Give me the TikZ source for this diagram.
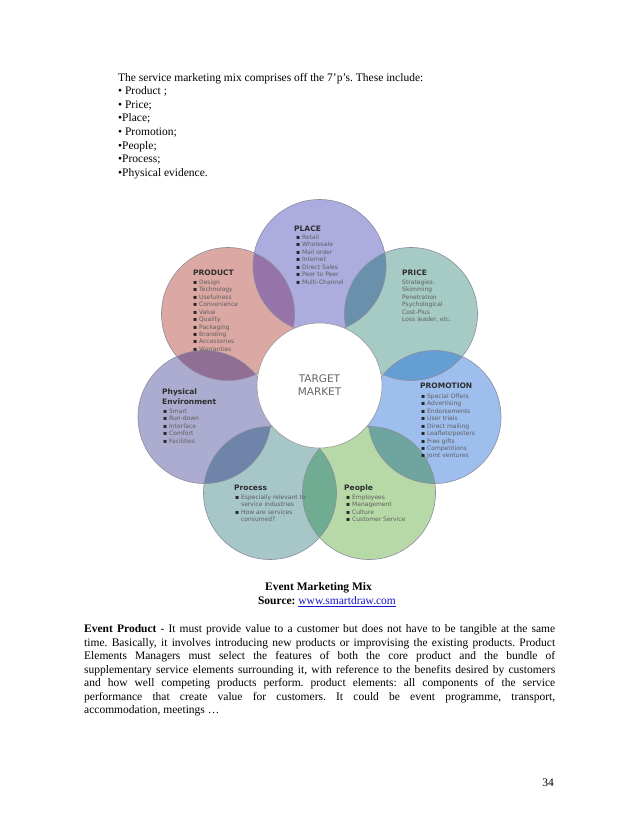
\documentclass[tikz,border=0pt]{standalone}
\usepackage{fontspec}
\setmainfont{Liberation Serif}
\newfontfamily\vfont{DejaVu Sans}
\definecolor{cPlace}{RGB}{172,172,222}
\definecolor{cProduct}{RGB}{219,168,164}
\definecolor{cPrice}{RGB}{165,203,196}
\definecolor{cPromo}{RGB}{158,190,238}
\definecolor{cPeople}{RGB}{183,217,167}
\definecolor{cProcess}{RGB}{166,198,200}
\definecolor{cPhys}{RGB}{172,172,208}
\definecolor{oPlPr}{RGB}{150,115,168}
\definecolor{oPrPh}{RGB}{145,110,150}
\definecolor{oPhPc}{RGB}{110,132,168}
\definecolor{oPcPe}{RGB}{112,172,145}
\definecolor{oPePm}{RGB}{110,165,158}
\definecolor{oPmPi}{RGB}{100,158,210}
\definecolor{oPiPl}{RGB}{105,145,172}
\definecolor{edge}{RGB}{140,140,158}
\definecolor{ttl}{RGB}{45,45,45}
\definecolor{itm}{RGB}{95,95,95}
\definecolor{lnk}{RGB}{20,20,200}
\newcommand\bl{\textcolor{black!85}{▪} }
\newcommand\nobl{\phantom{▪ }}
\tikzset{
  petal/.style={draw=edge, line width=0.6pt},
  ptitle/.style={anchor=base west, inner sep=0pt, font=\vfont\bfseries\fontsize{7.5}{10}\selectfont, text=ttl, align=left},
  plist/.style={anchor=north west, inner sep=0pt, font=\vfont\fontsize{6}{7.45}\selectfont, text=itm, align=left},
  body/.style={inner sep=0pt, font=\frenchspacing\fontsize{11.5}{13.6}\selectfont},
}
\begin{document}
\begin{tikzpicture}[x=1pt,y=-1pt]
\useasboundingbox (0,0) rectangle (638,826);
\fill[white] (0,0) rectangle (638,826);
% circle centres
\coordinate (cPL) at (319.5,266);
\coordinate (cPR) at (228,314);
\coordinate (cPI) at (411,314);
\coordinate (cPH) at (204.5,417);
\coordinate (cPM) at (434.5,417);
\coordinate (cPC) at (270,493);
\coordinate (cPE) at (369,493);
\coordinate (cTM) at (319.5,385.5);
\def\rr{66.5pt}
% fills
\fill[cPlace] (cPL) circle[radius=\rr];
\fill[cProduct] (cPR) circle[radius=\rr];
\fill[cPrice] (cPI) circle[radius=\rr];
\fill[cPhys] (cPH) circle[radius=\rr];
\fill[cPromo] (cPM) circle[radius=\rr];
\fill[cProcess] (cPC) circle[radius=\rr];
\fill[cPeople] (cPE) circle[radius=\rr];
% overlaps
\begin{scope}\clip (cPL) circle[radius=\rr]; \fill[oPlPr] (cPR) circle[radius=\rr];\end{scope}
\begin{scope}\clip (cPR) circle[radius=\rr]; \fill[oPrPh] (cPH) circle[radius=\rr];\end{scope}
\begin{scope}\clip (cPH) circle[radius=\rr]; \fill[oPhPc] (cPC) circle[radius=\rr];\end{scope}
\begin{scope}\clip (cPC) circle[radius=\rr]; \fill[oPcPe] (cPE) circle[radius=\rr];\end{scope}
\begin{scope}\clip (cPE) circle[radius=\rr]; \fill[oPePm] (cPM) circle[radius=\rr];\end{scope}
\begin{scope}\clip (cPM) circle[radius=\rr]; \fill[oPmPi] (cPI) circle[radius=\rr];\end{scope}
\begin{scope}\clip (cPI) circle[radius=\rr]; \fill[oPiPl] (cPL) circle[radius=\rr];\end{scope}
% outlines
\foreach \c in {cPL,cPR,cPI,cPH,cPM,cPC,cPE}{\draw[petal] (\c) circle[radius=\rr];}
% centre
\fill[white] (cTM) circle[radius=62.5pt];
\draw[petal, draw=gray!80] (cTM) circle[radius=62.5pt];
\node[align=center, inner sep=0pt, font=\vfont\fontsize{10.5}{13}\selectfont, text=black!60] (tm) at (319.5,385) {TARGET\\MARKET};
% PLACE
\node[ptitle] (tPL) at (294,231.7) {PLACE};
\node[plist] (lPL) at (296,234.6) {\bl Retail\\\bl Wholesale\\\bl Mail order\\\bl Internet\\\bl Direct Sales\\\bl Peer to Peer\\\bl Multi-Channel};
% PRODUCT
\node[ptitle] (tPR) at (193,275.7) {PRODUCT};
\node[plist] (lPR) at (193,279.6) {\bl Design\\\bl Technology\\\bl Usefulness\\\bl Convenience\\\bl Value\\\bl Quality\\\bl Packaging\\\bl Branding\\\bl Accessories\\\bl Warranties};
% PRICE
\node[ptitle] (tPI) at (402,275.7) {PRICE};
\node[plist] (lPI) at (402,279.6) {Strategies:\\Skimming\\Penetration\\Psychological\\Cost-Plus\\Loss leader, etc.};
% PROMOTION
\node[ptitle] (tPM) at (420,388.7) {PROMOTION};
\node[plist] (lPM) at (421,393.6) {\bl Special Offers\\\bl Advertising\\\bl Endorsements\\\bl User trials\\\bl Direct mailing\\\bl Leaflets/posters\\\bl Free gifts\\\bl Competitions\\\bl Joint ventures};
% PHYSICAL
\node[ptitle] (tPH) at (162,404.7) {Physical\\Environment};
\node[plist] (lPH) at (163,408.6) {\bl Smart\\\bl Run-down\\\bl Interface\\\bl Comfort\\\bl Facilities};
% PROCESS
\node[ptitle] (tPC) at (234,490.7) {Process};
\node[plist] (lPC) at (235,494.6) {\bl Especially relevant to\\\nobl service industries\\\bl How are services\\\nobl consumed?};
% PEOPLE
\node[ptitle] (tPE) at (344,490.7) {People};
\node[plist] (lPE) at (346,494.6) {\bl Employees\\\bl Management\\\bl Culture\\\bl Customer Service};
% intro text
\node[body, anchor=north west, align=left] (intro) at (118,72.8) {The service marketing mix comprises off the 7’p’s. These include:\\
• Product ;\\
• Price;\\
•Place;\\
• Promotion;\\
•People;\\
•Process;\\
•Physical evidence.};
% caption
\node[body, font=\bfseries\fontsize{11.5}{13.6}\selectfont] (cap1) at (318.5,588) {Event Marketing Mix};
\node[body] (cap2) at (327,601.5) {\textbf{Source:} \textcolor{lnk}{\underline{www.smartdraw.com}}};
% paragraph
\node[body, anchor=north west, text width=471pt, align=justify, font=\frenchspacing\fontsize{11.5}{13.45}\selectfont] (para) at (84,624.8) {\textbf{Event Product} - It must provide value to a customer but does not have to be tangible at the same\linebreak
time. Basically, it involves introducing new products or improvising the existing products. Product\linebreak
Elements Managers must select the features of both the core product and the bundle of\linebreak
supplementary service elements surrounding it, with reference to the benefits desired by customers\linebreak
and how well competing products perform. product elements: all components of the service\linebreak
performance that create value for customers. It could be event programme, transport,\linebreak
accommodation, meetings …};
% page number
\node[body] (pg) at (548,783) {34};
\end{tikzpicture}
\end{document}
